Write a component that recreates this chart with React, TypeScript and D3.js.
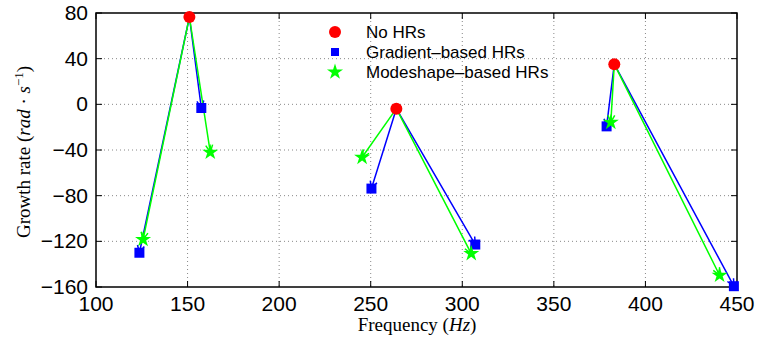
import React from 'react';
import * as d3 from 'd3';

// red: growth rate with no HRs, one per mode
const noHrFreq = [151, 264, 383];
const noHrRate = [76.5, -3.8, 35.2];

// blue: gradient-based HRs, arrow drawn from the mode in gradFrom
const gradFreq = [123.7, 157.5, 250.4, 307.1, 378.8, 448.3];
const gradRate = [-130, -3.2, -73.8, -122.8, -19.3, -159.3];
const gradFrom = [0, 0, 1, 1, 2, 2];

// green: modeshape-based HRs
const modeFreq = [125.7, 162.4, 245.3, 304.9, 381.1, 440.5];
const modeRate = [-118.4, -42, -46.4, -130.7, -15.8, -149.7];
const modeFrom = [0, 0, 1, 1, 2, 2];

const xTicks = [100, 150, 200, 250, 300, 350, 400, 450];
const yTicks = [80, 40, 0, -40, -80, -120, -160];
const legendLabels = ['No HRs', 'Gradient\u2013based HRs', 'Modeshape\u2013based HRs'];

const W = 766, H = 340;
const left = 96, right = 737, top = 13, bottom = 287;

const x = d3.scaleLinear().domain([100, 450]).range([left, right]);
const y = d3.scaleLinear().domain([-160, 80]).range([bottom, top]);

const sans = '"Liberation Sans", Arial, Helvetica, sans-serif';
const serif = '"Liberation Serif", "DejaVu Serif", serif';

function arrow(x0: number, y0: number, x1: number, y1: number) {
  const a = Math.atan2(y1 - y0, x1 - x0);
  const len = 8, spread = 0.45;
  const w1 = [x1 - len * Math.cos(a - spread), y1 - len * Math.sin(a - spread)];
  const w2 = [x1 - len * Math.cos(a + spread), y1 - len * Math.sin(a + spread)];
  return `M${x0},${y0}L${x1},${y1}M${w1[0]},${w1[1]}L${x1},${y1}L${w2[0]},${w2[1]}`;
}

const star = d3.symbol(d3.symbolStar, 80)() as string;
const square = d3.symbol(d3.symbolSquare, 100)() as string;

export default function App() {
  const legendX = 335;
  const legendY = [32, 52, 72];

  return (
    <svg width={W} height={H} style={{ position: 'absolute', left: 0, top: 0, background: '#fff' }}>
      <rect x={0} y={0} width={W} height={H} fill="#fff" />
      {/* grid */}
      <g stroke="#888" strokeWidth={1} strokeDasharray="1,3">
        {xTicks.slice(1, -1).map(t => (
          <line key={'gx' + t} x1={x(t)} x2={x(t)} y1={top} y2={bottom} />
        ))}
        {yTicks.slice(1, -1).map(t => (
          <line key={'gy' + t} x1={left} x2={right} y1={y(t)} y2={y(t)} />
        ))}
      </g>
      {/* ticks, inward on all sides */}
      <g stroke="#000" strokeWidth={1}>
        {xTicks.map(t => (
          <g key={'tx' + t}>
            <line x1={x(t)} x2={x(t)} y1={bottom} y2={bottom - 6} />
            <line x1={x(t)} x2={x(t)} y1={top} y2={top + 6} />
          </g>
        ))}
        {yTicks.map(t => (
          <g key={'ty' + t}>
            <line x1={left} x2={left + 6} y1={y(t)} y2={y(t)} />
            <line x1={right} x2={right - 6} y1={y(t)} y2={y(t)} />
          </g>
        ))}
      </g>
      <rect x={left} y={top} width={right - left} height={bottom - top} fill="none" stroke="#000" strokeWidth={1.5} />

      {/* tick labels */}
      <g fontFamily={sans} fontSize={21} fill="#000">
        {xTicks.map(t => (
          <text key={'lx' + t} x={x(t)} y={bottom + 24} textAnchor="middle">{t}</text>
        ))}
        {yTicks.map(t => (
          <text key={'ly' + t} x={left - 8} y={y(t) + 7} textAnchor="end">
            {t < 0 ? '\u2212' + Math.abs(t) : String(t)}
          </text>
        ))}
      </g>

      {/* axis titles */}
      <text x={417} y={331} textAnchor="middle" fontFamily={serif} fontSize={19} fill="#000">
        Frequency (<tspan fontStyle="italic">Hz</tspan>)
      </text>
      <text transform={`translate(30,152) rotate(-90)`} textAnchor="middle" fontFamily={serif} fontSize={19} fill="#000">
        Growth rate (<tspan fontStyle="italic">rad</tspan> · <tspan fontStyle="italic">s</tspan>
        <tspan dy={-7} fontSize={13}>−1</tspan>
        <tspan dy={7}>)</tspan>
      </text>

      {/* arrows */}
      <g fill="none" strokeWidth={1.5} strokeLinejoin="miter">
        {gradFreq.map((f, i) => {
          const j = gradFrom[i];
          return <path key={'ga' + i} stroke="#0000ff" d={arrow(x(noHrFreq[j]), y(noHrRate[j]), x(f), y(gradRate[i]))} />;
        })}
        {modeFreq.map((f, i) => {
          const j = modeFrom[i];
          return <path key={'ma' + i} stroke="#00ff00" d={arrow(x(noHrFreq[j]), y(noHrRate[j]), x(f), y(modeRate[i]))} />;
        })}
      </g>

      {/* markers */}
      {gradFreq.map((f, i) => (
        <path key={'gs' + i} d={square} transform={`translate(${x(f)},${y(gradRate[i])})`} fill="#0000ff" />
      ))}
      {modeFreq.map((f, i) => (
        <path key={'ms' + i} d={star} transform={`translate(${x(f)},${y(modeRate[i])})`} fill="#00ff00" />
      ))}
      {noHrFreq.map((f, i) => (
        <circle key={'nc' + i} cx={x(f)} cy={y(noHrRate[i])} r={6} fill="#ff0000" />
      ))}

      {/* legend */}
      <g fontFamily={sans} fontSize={17} fill="#000">
        <circle cx={legendX} cy={legendY[0]} r={6} fill="#ff0000" />
        <path d={square} transform={`translate(${legendX},${legendY[1]}) scale(0.8)`} fill="#0000ff" />
        <path d={star} transform={`translate(${legendX},${legendY[2]})`} fill="#00ff00" />
        {legendLabels.map((l, i) => (
          <text key={l} x={366} y={legendY[i] + 6}>{l}</text>
        ))}
      </g>
    </svg>
  );
}
